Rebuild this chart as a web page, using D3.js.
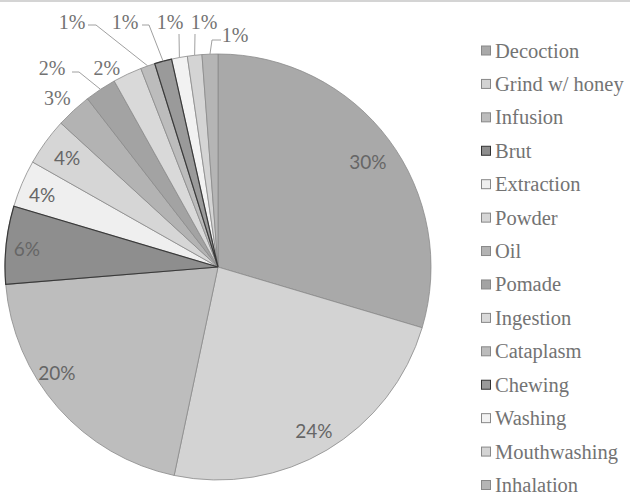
<!DOCTYPE html>
<meta charset="utf-8">
<style>
  body { margin: 0; background: #fff; }
  svg { display: block; }
</style>
<svg></svg>
<script src="https://cdn.jsdelivr.net/npm/d3@7/dist/d3.min.js"></script>
<script>
var width = 630,
    height = 497;

// preparation methods, clockwise from 12 o'clock
var methods = ["Decoction", "Grind w/ honey", "Infusion", "Brut", "Extraction", "Powder", "Oil",
  "Pomade", "Ingestion", "Cataplasm", "Chewing", "Washing", "Mouthwashing", "Inhalation"];

// share of citations (%)
var shares = [29.6, 23.7, 20.4, 5.9, 3.6, 3.6, 2.7, 2.4, 2.2, 1.1, 1.3, 1.2, 1.1, 1.2];

var fills = ["#a9a9a9", "#d3d3d3", "#bdbdbd", "#8e8e8e", "#efefef", "#d6d6d6", "#b3b3b3",
  "#a3a3a3", "#d9d9d9", "#bcbcbc", "#9a9a9a", "#f2f2f2", "#d4d4d4", "#b5b5b5"];
var darkEdge = {3: true, 10: true};

var cx = 218, cy = 267, radius = 213;

var svg = d3.select("svg")
    .attr("width", width)
    .attr("height", height);

svg.append("line")
    .attr("x1", 0).attr("x2", width)
    .attr("y1", 1).attr("y2", 1)
    .attr("stroke", "#d4d4d4")
    .attr("stroke-width", 2);

var pie = d3.pie()
    .sort(null)
    .value(function(d) { return d; });

var arc = d3.arc()
    .innerRadius(0)
    .outerRadius(radius);

var arcs = pie(shares);

var g = svg.append("g")
    .attr("transform", "translate(" + cx + "," + cy + ")");

g.selectAll("path.slice")
  .data(arcs)
  .enter().append("path")
    .attr("class", "slice")
    .attr("d", arc)
    .attr("fill", function(d, i) { return fills[i]; })
    .attr("stroke", "#8a8a8a")
    .attr("stroke-width", 0.8)
    .attr("stroke-linejoin", "round");

// redraw dark edges on top so neighbours don't hide them
g.selectAll("path.edge")
  .data(arcs.filter(function(d, i) { return darkEdge[i]; }))
  .enter().append("path")
    .attr("d", arc)
    .attr("fill", "none")
    .attr("stroke", "#3a3a3a")
    .attr("stroke-width", 1.2);

function label(d, i) { return Math.round(shares[i]) + "%"; }

function midAngle(d) { return (d.startAngle + d.endAngle) / 2; }

// labels placed by angle (deg) / radius (px)
var labelPolar = {0: [55, 183], 1: [149.7, 190], 2: [236.6, 193], 3: [275.1, 192],
  4: [292.2, 190], 5: [305.8, 186], 6: [316.4, 233], 8: [330.8, 228]};
var sansLabels = {0: 1, 1: 1, 2: 1, 3: 1, 4: 1, 5: 1};

// labels pulled out with leader lines: text position + line start points
var leaders = {
  7:  {x: 52,  y: 68, pts: [[72, 72], [79, 72]]},
  9:  {x: 72,  y: 22, pts: [[88, 25], [96, 25]]},
  10: {x: 125, y: 22, pts: [[142, 25], [149, 25]]},
  11: {x: 170, y: 22, pts: [[179, 34]]},
  12: {x: 204, y: 22, pts: [[195, 34]]},
  13: {x: 235, y: 35, pts: [[221, 40], [212, 40]]}
};

var line = d3.line();

arcs.forEach(function(d, i) {
  var x, y;
  if (labelPolar[i]) {
    var a = labelPolar[i][0] * Math.PI / 180, r = labelPolar[i][1];
    x = cx + r * Math.sin(a);
    y = cy - r * Math.cos(a);
  } else {
    var L = leaders[i];
    x = L.x; y = L.y;
    var m = midAngle(d);
    var edge = [cx + radius * Math.sin(m), cy - radius * Math.cos(m)];
    svg.append("path")
        .attr("d", line(L.pts.concat([edge])))
        .attr("fill", "none")
        .attr("stroke", "#a0a0a0")
        .attr("stroke-width", 1);
  }
  svg.append("text")
      .attr("x", x)
      .attr("y", y + (sansLabels[i] ? 6.5 : 7))
      .attr("text-anchor", "middle")
      .attr("font-family", sansLabels[i] ? "Lato" : "Liberation Serif")
      .attr("font-size", sansLabels[i] ? 19 : 20)
      .attr("fill", sansLabels[i] ? "#666" : "#727272")
      .text(label(d, i));
});

// legend
var legendY = d3.scalePoint()
    .domain(methods)
    .range([50.5, 485]);

var legend = svg.append("g").selectAll("g")
  .data(methods)
  .enter().append("g")
    .attr("transform", function(d) { return "translate(481," + legendY(d) + ")"; });

legend.append("rect")
    .attr("x", 0.5)
    .attr("y", -4.5)
    .attr("width", 9)
    .attr("height", 9)
    .attr("fill", function(d, i) { return fills[i]; })
    .attr("stroke", function(d, i) { return darkEdge[i] ? "#333" : "#888"; })
    .attr("stroke-width", 1);

legend.append("text")
    .attr("x", 14)
    .attr("y", 7)
    .attr("font-family", "Liberation Serif")
    .attr("font-size", 20.5)
    .attr("fill", "#737373")
    .text(function(d) { return d; });
</script>
